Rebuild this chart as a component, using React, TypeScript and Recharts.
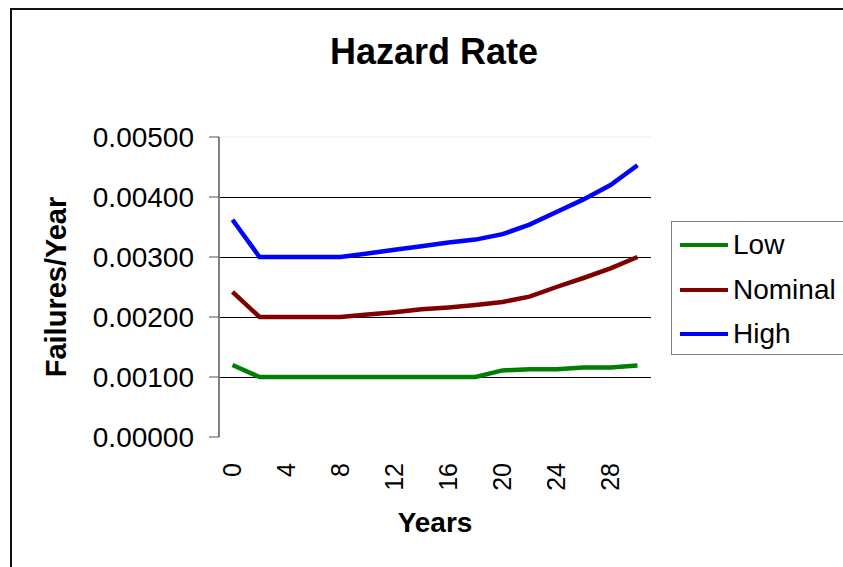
import React from 'react';
import { LineChart, Line, XAxis, YAxis, CartesianGrid, ReferenceLine } from 'recharts';

const YEARS = [0, 2, 4, 6, 8, 10, 12, 14, 16, 18, 20, 22, 24, 26, 28, 30];
const LOW = [0.0012, 0.001, 0.001, 0.001, 0.001, 0.001, 0.001, 0.001, 0.001, 0.001, 0.00111, 0.00113, 0.00113, 0.00116, 0.00116, 0.00119];
const NOMINAL = [0.00242, 0.002, 0.002, 0.002, 0.002, 0.00204, 0.00208, 0.00213, 0.00216, 0.0022, 0.00225, 0.00234, 0.0025, 0.00265, 0.00281, 0.003];
const HIGH = [0.00362, 0.003, 0.003, 0.003, 0.003, 0.00306, 0.00312, 0.00318, 0.00324, 0.00329, 0.00338, 0.00354, 0.00375, 0.00396, 0.0042, 0.00453];
const Y_TICKS = [0, 0.001, 0.002, 0.003, 0.004, 0.005];
const X_LABELS = [0, 4, 8, 12, 16, 20, 24, 28];
const SERIES_NAMES = ['Low', 'Nominal', 'High'];

const COLORS: Record<string, string> = { Low: '#008000', Nominal: '#800000', High: '#0000ff' };
const FONT = '"Liberation Sans", Arial, sans-serif';

const data = YEARS.map((year, i) => ({ year, Low: LOW[i], Nominal: NOMINAL[i], High: HIGH[i] }));
// tick marks sit between the categories, like Excel
const boundaries = [...YEARS.map((y) => y - 1), YEARS[YEARS.length - 1] + 1];

const XTick = (props: any) => {
  const { x, y, payload } = props;
  return (
    <text
      x={x}
      y={y}
      dy="0.35em"
      transform={`rotate(-90 ${x} ${y})`}
      textAnchor="end"
      fill="#000"
      fontSize={25}
      fontFamily={FONT}
    >
      {payload.value}
    </text>
  );
};

const Empty = () => <g />;

export default function App() {
  return (
    <div style={{ position: 'absolute', left: 0, top: 0, width: 843, height: 567, overflow: 'hidden', background: '#fff', fontFamily: FONT }}>
      {/* chart frame */}
      <div style={{ position: 'absolute', left: 10, top: 8, width: 840, height: 570, borderLeft: '2px solid #111', borderTop: '2px solid #111' }} />

      <div style={{ position: 'absolute', left: 0, top: 34, width: 868, textAlign: 'center', fontSize: 36, fontWeight: 'bold', lineHeight: '36px' }}>
        Hazard Rate
      </div>

      <div style={{ position: 'absolute', left: 0, top: 0 }}>
        <LineChart width={843} height={567} data={data} margin={{ top: 137, right: 192, bottom: 30, left: 0 }}>
          <CartesianGrid
            vertical={false}
            horizontalValues={[0.001, 0.002, 0.003, 0.004]}
            stroke="#000"
            strokeWidth={1}
            shapeRendering="crispEdges"
          />
          <ReferenceLine y={0.005} stroke="#eeeeee" />
          <XAxis
            xAxisId="marks"
            dataKey="year"
            type="number"
            domain={[boundaries[0], boundaries[boundaries.length - 1]]}
            ticks={boundaries}
            tick={<Empty />}
            tickSize={9}
            height={0}
            axisLine={{ stroke: '#000', shapeRendering: 'crispEdges' }}
            tickLine={{ stroke: '#444' }}
          />
          <XAxis
            xAxisId="labels"
            dataKey="year"
            type="number"
            domain={[boundaries[0], boundaries[boundaries.length - 1]]}
            ticks={X_LABELS}
            interval={0}
            tick={<XTick />}
            tickLine={false}
            axisLine={false}
            tickSize={6}
            tickMargin={20}
            height={100}
            label={{ value: 'Years', position: 'insideBottom', offset: 5, style: { fontSize: 28, fontWeight: 'bold', fill: '#000', fontFamily: FONT } }}
          />
          <YAxis
            type="number"
            domain={[0, 0.005]}
            ticks={Y_TICKS}
            interval={0}
            width={219}
            tickFormatter={(v: number) => v.toFixed(5)}
            tick={{ fill: '#000', fontSize: 28, fontFamily: FONT }}
            tickSize={10}
            tickMargin={15}
            axisLine={{ stroke: '#808080', strokeWidth: 2 }}
            tickLine={{ stroke: '#555' }}
            label={{
              value: 'Failures/Year',
              angle: -90,
              position: 'insideLeft',
              offset: 56,
              style: { textAnchor: 'middle', fontSize: 29, fontWeight: 'bold', fill: '#000', fontFamily: FONT },
            }}
          />
          {SERIES_NAMES.map((name) => (
            <Line
              key={name}
              xAxisId="labels"
              type="linear"
              dataKey={name}
              stroke={COLORS[name]}
              strokeWidth={4.5}
              dot={false}
              activeDot={false}
              isAnimationActive={false}
            />
          ))}
        </LineChart>
      </div>

      {/* legend, runs off the right edge */}
      <div style={{ position: 'absolute', left: 671, top: 221, width: 200, height: 132, borderLeft: '1px solid #808080', borderTop: '1px solid #808080', borderBottom: '1px solid #808080', background: '#fff' }}>
        {SERIES_NAMES.map((name, i) => (
          <div key={name} style={{ position: 'absolute', left: 8, top: 23 + i * 44.5 - 16, height: 32, display: 'flex', alignItems: 'center' }}>
            <span style={{ display: 'inline-block', width: 48, height: 4, background: COLORS[name], marginRight: 5 }} />
            <span style={{ fontSize: 28, lineHeight: '32px', color: '#000' }}>{name}</span>
          </div>
        ))}
      </div>
    </div>
  );
}
